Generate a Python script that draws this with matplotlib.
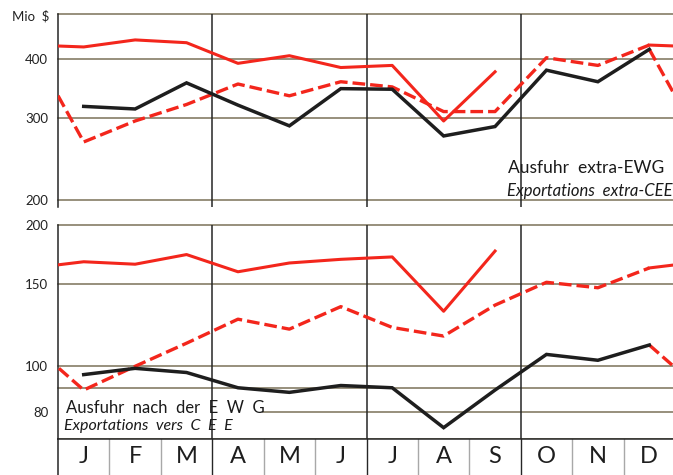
import matplotlib
matplotlib.use("Agg")
import matplotlib.pyplot as plt
from matplotlib.ticker import NullLocator

plt.rcParams['font.family'] = ['Lato', 'DejaVu Sans']

months = ['J', 'F', 'M', 'A', 'M', 'J', 'J', 'A', 'S', 'O', 'N', 'D']
x = list(range(1, 13))

# Ausfuhr extra-EWG (Mio $)
top_black = [317, 313, 356, 319, 288, 346, 345, 274, 287, 379, 358, 420]
top_dashed = [266, 295, 320, 354, 334, 358, 349, 309, 309, 403, 388, 429]
top_solid = [425, 440, 434, 392, 407, 384, 388, 295, 376]

# Ausfuhr nach der EWG (Mio $)
bot_black = [96, 99, 97, 90, 88, 91, 90, 74, 89, 106, 103, 111]
bot_dashed = [89, 100, 112, 126, 120, 134, 121, 116, 135, 151, 147, 162]
bot_solid = [167, 165, 173, 159, 166, 169, 171, 131, 176]

top_ticks = [200, 300, 400]
bot_ticks = [80, 100, 150, 200]

RED = '#f3261c'
BLACK = '#1e1e1e'
GRID = '#7a7158'
DARK = '#262626'

W, H = 673, 475
fig = plt.figure(figsize=(W / 100, H / 100), dpi=100)


def px_axes(left, top, right, bottom):
    return fig.add_axes([left / W, 1 - bottom / H, (right - left) / W, (bottom - top) / H])


def draw_panel(ax, black, dashed, solid, ylim, grid_vals, ticks, skip=None):
    ax.set_yscale('log')
    ax.set_xlim(0.5, 12.5)
    ax.set_ylim(*ylim)
    for v in grid_vals:
        # the caption box hides the left part of one grid line
        xmin = skip[1] if skip and skip[0] == v else 0
        ax.axhline(v, xmin=xmin, color=GRID, lw=1.1, zorder=1, clip_on=False)
    for q in [3.5, 6.5, 9.5]:
        ax.axvline(q, color=DARK, lw=1.1, zorder=1)
    ax.plot(x, black, color=BLACK, lw=2.5, solid_joinstyle='miter', zorder=4)
    # dashed year begins from December of the black year
    ax.plot([0] + x, [black[-1]] + dashed, color=RED, lw=2.4, dashes=(3.8, 1.5), zorder=3)
    ax.plot([12, 13], [black[-1], dashed[0]], color=RED, lw=2.4, dashes=(3.8, 1.5), zorder=3)
    # solid year begins from December of the dashed year
    ax.plot([0] + x[:len(solid)], [dashed[-1]] + solid, color=RED, lw=2.2, zorder=3)
    ax.plot([12, 13], [dashed[-1], solid[0]], color=RED, lw=2.2, zorder=3)
    ax.yaxis.set_minor_locator(NullLocator())
    ax.set_yticks(ticks)
    ax.set_yticklabels([str(t) for t in ticks])
    ax.tick_params(axis='y', length=0, pad=7, labelsize=9.5, labelcolor='#222222')
    ax.set_xticks([])
    for s in ['top', 'right', 'bottom']:
        ax.spines[s].set_visible(False)
    ax.spines['left'].set_color(DARK)
    ax.spines['left'].set_linewidth(1.1)


ax1 = px_axes(58, 14, 675, 207)
draw_panel(ax1, top_black, top_dashed, top_solid, (193, 500), [500, 400, 300, 200], top_ticks)
ax1.text(0.73, 0.20, 'Ausfuhr  extra-EWG', transform=ax1.transAxes, fontsize=12.5,
         color='#1a1a1a', va='center')
ax1.text(0.727, 0.085, 'Exportations  extra-CEE', transform=ax1.transAxes, fontsize=12,
         style='italic', color='#1a1a1a', va='center')
fig.text(12 / W, 1 - 16 / H, 'Mio  $', fontsize=9.5, color='#222222', va='center')

ax2 = px_axes(58, 225, 675, 439)
draw_panel(ax2, bot_black, bot_dashed, bot_solid, (70, 200), [200, 150, 100, 90, 80, 70],
           bot_ticks, skip=(80, 205 / 617))
ax2.text(0.013, 0.145, 'Ausfuhr  nach  der  E  W  G', transform=ax2.transAxes, fontsize=12,
         color='#1a1a1a', va='center', zorder=5)
ax2.text(0.01, 0.06, 'Exportations  vers  C  E  E', transform=ax2.transAxes, fontsize=11.5,
         style='italic', color='#1a1a1a', va='center', zorder=5)

# month strip
ax3 = px_axes(58, 439, 675, 478)
ax3.set_xlim(0.5, 12.5)
ax3.set_ylim(0, 1)
for b in range(1, 12):
    ax3.axvline(b + 0.5, color=DARK if b in (3, 6, 9) else '#a8a8a8', lw=1.0)
for xi, m in zip(x, months):
    ax3.text(xi, 0.55, m, ha='center', va='center', fontsize=17, color='#1e1e1e')
ax3.set_xticks([])
ax3.set_yticks([])
for s in ['right', 'bottom']:
    ax3.spines[s].set_visible(False)
ax3.spines['top'].set_color(DARK)
ax3.spines['top'].set_linewidth(1.1)
ax3.spines['left'].set_color(DARK)
ax3.spines['left'].set_linewidth(1.1)

fig.savefig('out.png', dpi=100, facecolor='white')
